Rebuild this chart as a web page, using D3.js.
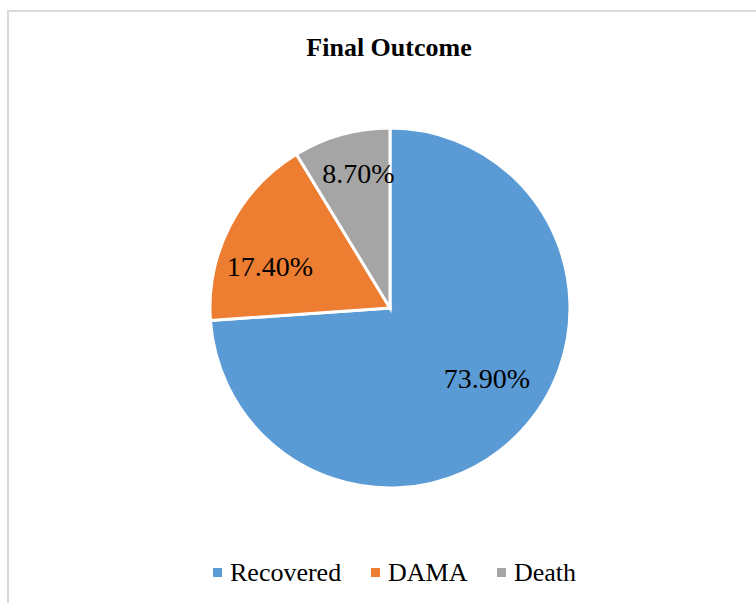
<!DOCTYPE html>
<html>
<head>
<meta charset="utf-8">
<script src="https://cdn.jsdelivr.net/npm/d3@7"></script>
<style>
  html, body { margin: 0; padding: 0; background: #fff; }
  svg { display: block; }
</style>
</head>
<body>
<svg id="chart" width="756" height="603"></svg>
<script>
// Final outcome shares (%)
const categories = ["Recovered", "DAMA", "Death"];
const values = [73.9, 17.4, 8.7];
const labels = ["73.90%", "17.40%", "8.70%"];
const colors = ["#5B9BD5", "#ED7D31", "#A5A5A5"];

// label anchor inside each slice, as [x, y] fractions of the radius
const labelOffset = [[0.539, 0.394], [-0.667, -0.228], [-0.175, -0.75]];

const FONT = "'Liberation Serif'";
const W = 756, H = 603;
const cx = 390, cy = 308, r = 180;

const svg = d3.select("#chart");

// chart area frame
svg.append("rect")
  .attr("x", 8).attr("y", 11)
  .attr("width", W).attr("height", H)
  .attr("fill", "#fff")
  .attr("stroke", "#d9d9d9")
  .attr("stroke-width", 2);

svg.append("text")
  .attr("x", 389).attr("y", 56)
  .attr("text-anchor", "middle")
  .style("font-family", FONT)
  .style("font-size", "26px")
  .style("font-weight", "bold")
  .text("Final Outcome");

const pie = d3.pie().sort(null).value(d => d.v);
const arcs = pie(categories.map((c, i) => ({ c, v: values[i], i })));
const arc = d3.arc().innerRadius(0).outerRadius(r);

const g = svg.append("g").attr("transform", `translate(${cx},${cy})`);

g.selectAll("path.slice")
  .data(arcs)
  .join("path")
  .attr("class", "slice")
  .attr("d", arc)
  .attr("fill", d => colors[d.data.i])
  .attr("stroke", "#fff")
  .attr("stroke-width", 3)
  .attr("stroke-linejoin", "miter");

g.selectAll("text.lbl")
  .data(arcs)
  .join("text")
  .attr("class", "lbl")
  .attr("x", d => labelOffset[d.data.i][0] * r)
  .attr("y", d => labelOffset[d.data.i][1] * r)
  .attr("text-anchor", "middle")
  .attr("dy", "0.34em")
  .style("font-family", FONT)
  .style("font-size", "28px")
  .text(d => labels[d.data.i]);

// legend
const legendX = [213, 371, 497];
const legend = svg.append("g");
categories.forEach((c, i) => {
  legend.append("rect")
    .attr("x", legendX[i]).attr("y", 568)
    .attr("width", 9).attr("height", 9)
    .attr("fill", colors[i]);
  legend.append("text")
    .attr("x", legendX[i] + 17).attr("y", 581)
    .style("font-family", FONT)
    .style("font-size", "26px")
    .text(c);
});
</script>
</body>
</html>
